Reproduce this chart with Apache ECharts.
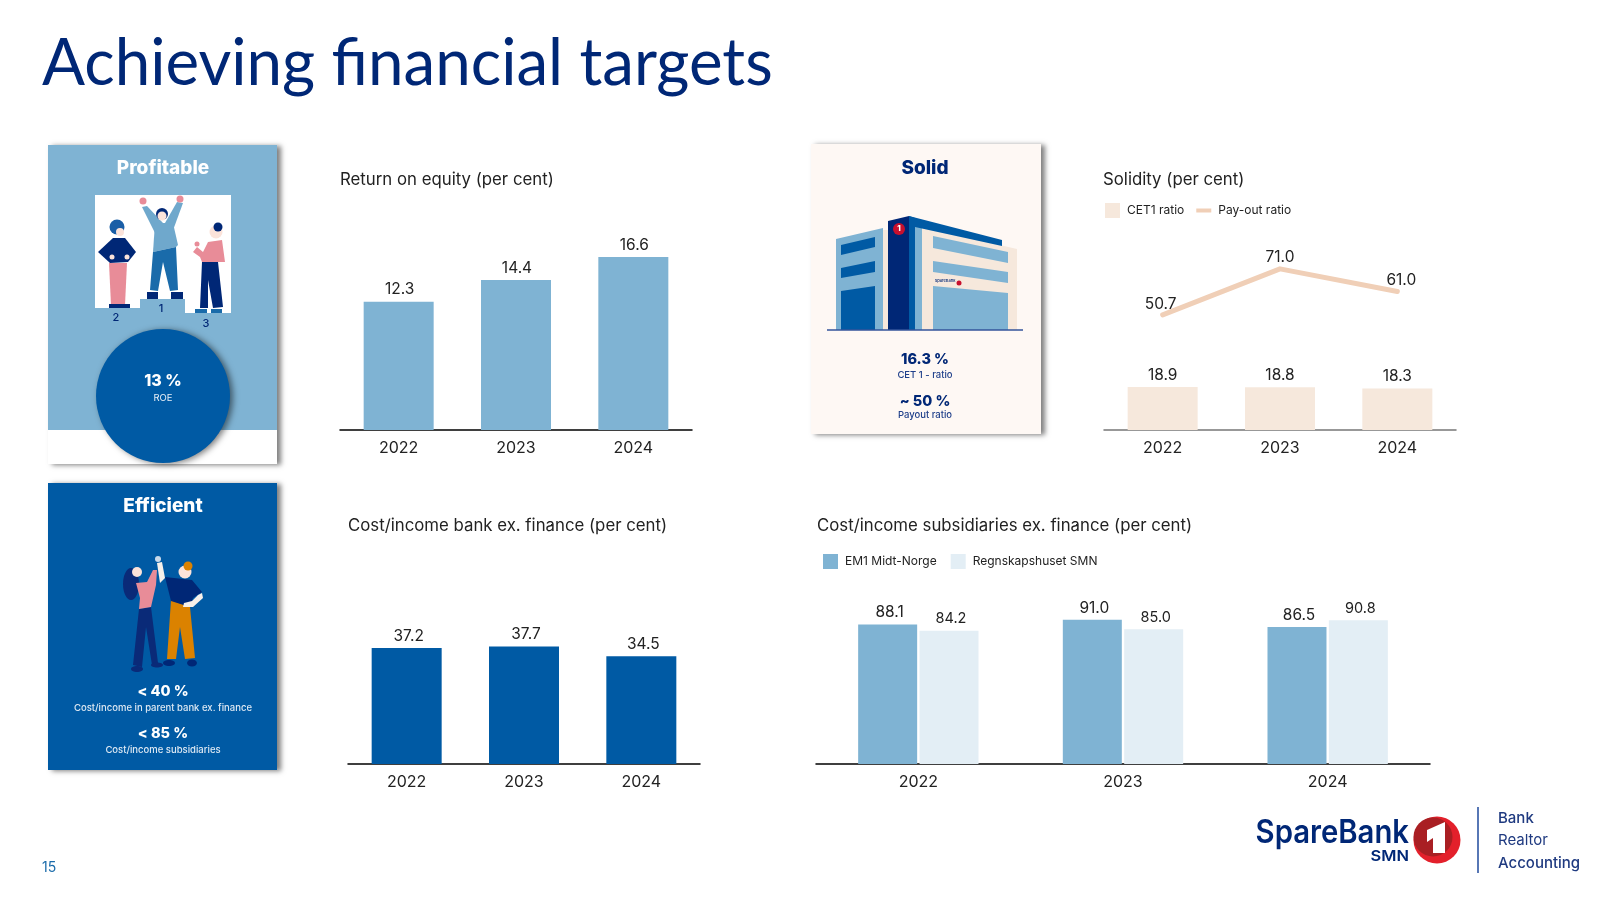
<!DOCTYPE html>
<html>
<head>
<meta charset="utf-8">
<title>Achieving financial targets</title>
<script src="https://cdn.jsdelivr.net/npm/echarts@6/dist/echarts.min.js"></script>
<style>
  html, body { margin: 0; padding: 0; background: #fff; }
  #main { width: 1600px; height: 900px; }
</style>
</head>
<body>
<div id="main"></div>
<script>
const years = ["2022", "2023", "2024"];
const returnOnEquity = [12.3, 14.4, 16.6];
const cet1Ratio = [18.9, 18.8, 18.3];
const payoutRatio = [50.7, 71.0, 61.0];
const costIncomeBank = [37.2, 37.7, 34.5];
const em1MidtNorge = [88.1, 91.0, 86.5];
const regnskapshuset = [84.2, 85.0, 90.8];

const NAVY = "#002776";
const BLUE = "#005AA4";
const SKY = "#7FB3D3";
const PALE = "#E3EEF5";
const SAND = "#F6E8DC";
const PEACH = "#F0CFB7";
const PINK = "#E88C98";
const INK = "#222222";
const FONT = "Inter, 'Noto Sans', sans-serif";

const chart = echarts.init(document.getElementById("main"));

// small helpers for the drawn decoration (cards, people, building, logo)
const poly = (points, fill) => ({ type: "polygon", shape: { points }, style: { fill } });
const box = (x, y, width, height, fill, extra) => ({
  type: "rect",
  shape: { x, y, width, height },
  style: Object.assign({ fill }, extra),
});
const dot = (cx, cy, r, fill, extra) => ({
  type: "circle",
  shape: { cx, cy, r },
  style: Object.assign({ fill }, extra),
});
const oval = (cx, cy, rx, ry, fill) => ({ type: "ellipse", shape: { cx, cy, rx, ry }, style: { fill } });
const label = (text, x, y, size, fill, weight, align) => ({
  type: "text",
  x,
  y,
  style: {
    text,
    fill,
    fontSize: size,
    fontWeight: weight || 400,
    fontFamily: FONT,
    textAlign: align || "center",
    textVerticalAlign: "middle",
  },
});
const cardShadow = {
  shadowBlur: 5,
  shadowOffsetX: 4,
  shadowOffsetY: 1,
  shadowColor: "rgba(0,0,0,0.5)",
};

const profitableCard = [
  box(48, 145, 229, 319, "#fff", cardShadow),
  box(48, 145, 229, 285, SKY),
  label("Profitable", 163, 168, 19, "#fff", 800),
  poly([[95, 195], [231, 195], [231, 313], [185, 313], [185, 299], [140, 299], [140, 308], [95, 308]], "#fff"),
  // person 2
  poly([[113, 238], [125, 238], [136, 252], [128, 262], [110, 263], [98, 252]], NAVY),
  poly([[109, 263], [127, 263], [125, 305], [111, 305]], PINK),
  box(109, 304, 21, 4, NAVY),
  dot(117, 227, 7.5, "#1A5EA6"),
  dot(120, 232, 4, "#FBE3DA"),
  dot(112, 257, 2.5, "#FBE3DA"),
  dot(127, 257, 2.5, "#FBE3DA"),
  // person 1
  poly([[142, 207], [147, 206], [163, 223], [155, 233]], "#6FA8CC"),
  poly([[183, 203], [177, 202], [165, 223], [172, 233]], "#6FA8CC"),
  poly([[155, 223], [173, 223], [178, 245], [176, 247], [153, 252]], "#6FA8CC"),
  poly([[153, 252], [176, 247], [178, 290], [170, 291], [163, 262], [158, 291], [150, 290]], "#1A6BAA"),
  box(147, 292, 11, 7, NAVY),
  box(171, 292, 12, 7, NAVY),
  dot(162, 214, 6, NAVY),
  dot(162, 216, 4.5, "#FBE3DA"),
  dot(143, 201, 3.5, PINK),
  dot(180, 199, 3.5, PINK),
  // person 3
  poly([[208, 242], [222, 240], [225, 262], [202, 262], [200, 257], [193, 252], [197, 247], [203, 252]], PINK),
  poly([[202, 262], [218, 262], [223, 307], [213, 308], [208, 280], [208, 308], [200, 308]], NAVY),
  box(195, 309, 12, 4, "#1A6BAA"),
  box(211, 309, 11, 4, "#1A6BAA"),
  dot(216, 232, 6.5, "#FBE3DA"),
  dot(218, 227, 4.5, NAVY),
  dot(197, 244, 2.5, PINK),
  label("2", 116, 318, 11, NAVY, 500),
  label("1", 161, 309, 11, NAVY, 500),
  label("3", 206, 324, 11, NAVY, 500),
  dot(163, 396, 67, BLUE, { shadowBlur: 6, shadowOffsetX: 3, shadowOffsetY: 1, shadowColor: "rgba(0,0,0,0.5)" }),
  label("13 %", 163, 381, 16, "#fff", 800),
  label("ROE", 163, 398, 9.5, "#E6EEF6", 400),
];

const efficientCard = [
  box(48, 483, 229, 287, BLUE, cardShadow),
  label("Efficient", 163, 506, 19, "#fff", 800),
  // woman
  oval(131, 584, 8, 16, "#0A2A78"),
  poly([[139, 609], [151, 607], [158, 663], [152, 665], [146, 627], [142, 667], [133, 665]], "#0A2A78"),
  poly([[136, 583], [147, 582], [153, 570], [157, 570], [156, 585], [151, 607], [139, 609], [140, 598]], PINK),
  dot(137, 572, 5, "#FBE3DA"),
  oval(137, 669, 6, 3, "#0A2A78"),
  oval(157, 665, 6, 2.5, "#0A2A78"),
  // man
  poly([[171, 600], [190, 607], [195, 658], [185, 659], [180, 627], [176, 659], [167, 659]], "#DB8200"),
  poly([[165, 577], [192, 580], [202, 592], [193, 598], [190, 607], [171, 601]], NAVY),
  poly([[157, 563], [162, 562], [165, 578], [160, 583]], "#F6F0EA"),
  poly([[202, 593], [203, 598], [193, 607], [183, 607], [184, 603], [192, 601], [198, 595]], "#F6F0EA"),
  dot(185, 572, 6.5, "#FBE3DA"),
  dot(188, 566, 4.5, "#DB8200"),
  oval(169, 663, 6, 3, NAVY),
  oval(192, 663, 5, 3.5, NAVY),
  dot(158, 559, 3, "#C9D9EA"),
  label("< 40 %", 163, 692, 14.5, "#fff", 800),
  label("Cost/income in parent bank ex. finance", 163, 708, 9.5, "#DCE8F3", 500),
  label("< 85 %", 163, 734, 14.5, "#fff", 800),
  label("Cost/income subsidiaries", 163, 750, 9.5, "#DCE8F3", 500),
];

const solidCard = [
  box(811, 144, 230, 290, "#FEF8F4", cardShadow),
  label("Solid", 925, 168, 19, NAVY, 800),
  // building
  poly([[836, 239], [883, 228], [883, 330], [836, 330]], SKY),
  poly([[841, 245], [875, 237], [875, 247], [841, 255]], BLUE),
  poly([[841, 268], [875, 261], [875, 272], [841, 278]], BLUE),
  poly([[841, 291], [875, 286], [875, 330], [841, 330]], BLUE),
  box(883, 230, 5, 100, SAND),
  poly([[888, 221], [909, 216], [909, 330], [888, 330]], NAVY),
  poly([[909, 216], [915, 218], [915, 330], [909, 330]], BLUE),
  box(915, 227, 7, 103, SKY),
  poly([[922, 227], [1017, 249], [1017, 330], [922, 330]], SAND),
  poly([[909, 216], [1002, 240], [1002, 246], [915, 227], [909, 227]], BLUE),
  poly([[933, 236], [1008, 252], [1008, 263], [933, 248]], SKY),
  poly([[933, 261], [1008, 272], [1008, 283], [933, 272]], SKY),
  poly([[933, 286], [1008, 293], [1008, 330], [933, 330]], SKY),
  dot(899, 229, 6, "#C8102E"),
  label("1", 899, 229, 8, "#fff", 800),
  label("SpareBank", 945, 281, 4, NAVY, 500),
  dot(959, 283, 2.5, "#C8102E"),
  { type: "line", shape: { x1: 827, y1: 330, x2: 1023, y2: 330 }, style: { stroke: "#33559B", lineWidth: 1.5 } },
  label("16.3 %", 925, 360, 14.5, NAVY, 800),
  label("CET 1 - ratio", 925, 375, 9.5, "#1F3F8A", 500),
  label("~ 50 %", 925, 402, 14.5, NAVY, 800),
  label("Payout ratio", 925, 415, 9.5, "#1F3F8A", 500),
];

const logo = [
  Object.assign(label("SpareBank", 1409, 833, 32, NAVY, 600, "right"), { scaleX: 0.915 }),
  Object.assign(label("SMN", 1409, 856, 15, NAVY, 600, "right"), { scaleX: 1.1 }),
  dot(1437, 840, 23.5, "#E3202B"),
  dot(1433, 837, 19.5, "#A91F23"),
  poly([[1427, 830], [1445, 822], [1445, 853], [1433, 853], [1433, 838], [1427, 842]], "#fff"),
  { type: "line", shape: { x1: 1478, y1: 807, x2: 1478, y2: 873 }, style: { stroke: "#1F4A9C", lineWidth: 1.5 } },
  label("Bank", 1498, 818, 15, "#1F3A80", 500, "left"),
  label("Realtor", 1498, 840, 15, "#1F3A80", 400, "left"),
  label("Accounting", 1498, 863, 15, "#1F3A80", 500, "left"),
];

const pageBits = [
  label("15", 42, 868, 14, "#1A6BAA", 400, "left"),
  {
    type: "text",
    x: 42,
    y: 64,
    scaleX: 0.965,
    style: {
      text: "Achieving financial targets",
      fill: NAVY,
      fontSize: 66,
      fontFamily: "Lato, sans-serif",
      textAlign: "left",
      textVerticalAlign: "middle",
    },
  },
];

function panelTitle(text, left, top) {
  return {
    text,
    left,
    top,
    padding: 0,
    textStyle: { fontFamily: FONT, fontSize: 16.8, fontWeight: 400, color: INK },
  };
}

function xAxisFor(gridIndex, lineColor) {
  return {
    type: "category",
    gridIndex,
    data: years,
    axisTick: { show: false },
    axisLine: { lineStyle: { color: lineColor || "#000", width: 1.5 } },
    axisLabel: { color: INK, fontSize: 16, fontFamily: FONT, margin: 10 },
  };
}

function yAxisFor(gridIndex, max) {
  return { type: "value", gridIndex, min: 0, max, show: false, splitLine: { show: false } };
}

function valueLabel(size, shiftX) {
  return {
    show: true,
    position: "top",
    distance: 4,
    offset: [shiftX || 0, 0],
    color: INK,
    fontSize: size || 15.5,
    fontFamily: FONT,
    formatter: (p) => p.value.toFixed(1),
  };
}

chart.setOption({
  animation: false,
  backgroundColor: "#fff",
  title: [
    panelTitle("Return on equity (per cent)", 340, 171),
    panelTitle("Solidity (per cent)", 1103, 171),
    panelTitle("Cost/income bank ex. finance (per cent)", 348, 517),
    panelTitle("Cost/income subsidiaries ex. finance (per cent)", 817, 517),
  ],
  legend: [
    {
      left: 1105,
      top: 203,
      padding: 0,
      itemWidth: 15,
      itemHeight: 15,
      itemGap: 12,
      textStyle: { fontFamily: FONT, fontSize: 12, color: INK, padding: [0, 0, 0, 2] },
      data: [
        { name: "CET1 ratio", icon: "rect" },
        // thin bar inside the full swatch box, the zero-length ends keep the box size
        { name: "Pay-out ratio", icon: "path://M0,0L0,0M0,5.5H15V9.5H0ZM15,15L15,15" },
      ],
    },
    {
      left: 823,
      top: 554,
      padding: 0,
      itemWidth: 15,
      itemHeight: 15,
      itemGap: 14,
      textStyle: { fontFamily: FONT, fontSize: 12, color: INK, padding: [0, 0, 0, 2] },
      data: [
        { name: "EM1 Midt-Norge", icon: "rect" },
        { name: "Regnskapshuset SMN", icon: "rect" },
      ],
    },
  ],
  grid: [
    { left: 340, width: 352, top: 221.6, height: 208.4 },
    { left: 1104, width: 352, top: 203, height: 227 },
    { left: 348, width: 352, top: 608, height: 156 },
    { left: 816, width: 614, top: 605.6, height: 158.4 },
  ],
  xAxis: [xAxisFor(0), xAxisFor(1, "#777"), xAxisFor(2), xAxisFor(3)],
  yAxis: [yAxisFor(0, 20), yAxisFor(1, 100), yAxisFor(2, 50), yAxisFor(3, 100)],
  series: [
    {
      name: "Return on equity",
      type: "bar",
      xAxisIndex: 0,
      yAxisIndex: 0,
      barWidth: 70,
      itemStyle: { color: SKY },
      label: valueLabel(15.5, 1),
      data: returnOnEquity,
    },
    {
      name: "CET1 ratio",
      type: "bar",
      xAxisIndex: 1,
      yAxisIndex: 1,
      barWidth: 70,
      itemStyle: { color: SAND },
      label: valueLabel(),
      data: cet1Ratio,
    },
    {
      name: "Pay-out ratio",
      type: "line",
      xAxisIndex: 1,
      yAxisIndex: 1,
      symbol: "circle",
      symbolSize: 2,
      itemStyle: { color: PEACH },
      lineStyle: { color: PEACH, width: 5, cap: "round", join: "round" },
      label: Object.assign(valueLabel(), { distance: 2 }),
      labelLayout: (p) => ({ dx: [-2, 0, 4][p.dataIndex] }),
      data: payoutRatio,
    },
    {
      name: "Cost/income bank",
      type: "bar",
      xAxisIndex: 2,
      yAxisIndex: 2,
      barWidth: 70,
      itemStyle: { color: BLUE },
      label: valueLabel(15.5, 2),
      data: costIncomeBank,
    },
    {
      name: "EM1 Midt-Norge",
      type: "bar",
      xAxisIndex: 3,
      yAxisIndex: 3,
      barWidth: 59,
      barGap: "4%",
      itemStyle: { color: SKY },
      label: valueLabel(15.5, 2),
      data: em1MidtNorge,
    },
    {
      name: "Regnskapshuset SMN",
      type: "bar",
      xAxisIndex: 3,
      yAxisIndex: 3,
      barWidth: 59,
      barGap: "4%",
      itemStyle: { color: PALE },
      label: valueLabel(14.5, 2),
      data: regnskapshuset,
    },
  ],
  graphic: { elements: [...profitableCard, ...efficientCard, ...solidCard, ...logo, ...pageBits] },
});
</script>
</body>
</html>
